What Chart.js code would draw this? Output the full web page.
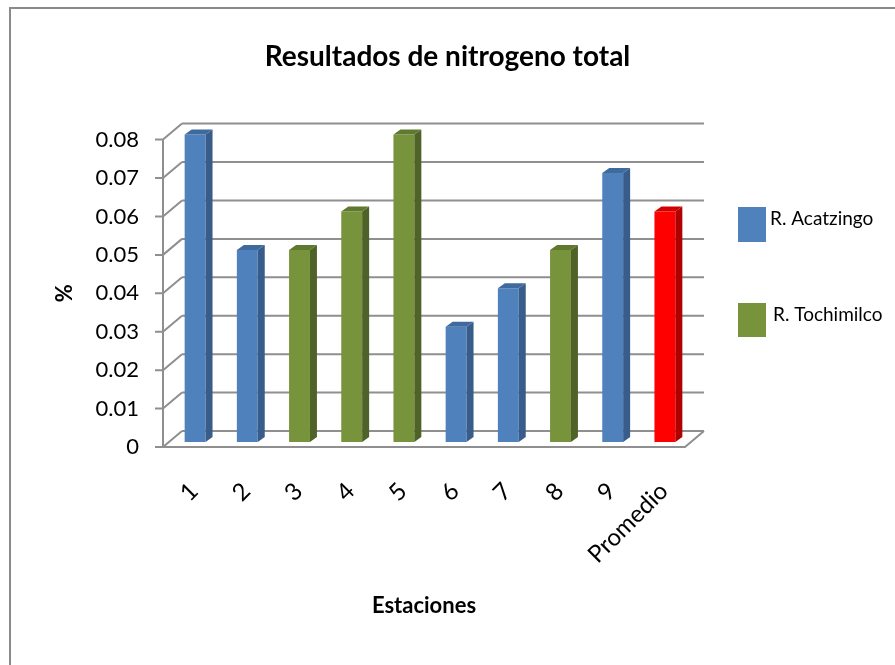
<!DOCTYPE html>
<html>
<head>
<meta charset="utf-8">
<script src="https://cdn.jsdelivr.net/npm/chart.js@4.4.1/dist/chart.umd.min.js"></script>
<style>
  html, body { margin: 0; padding: 0; background: #fff; overflow: hidden; }
  #marco {
    position: absolute; left: 9px; top: 7px; width: 1000px; height: 800px;
    border-left: 2px solid #8a8a8a; border-top: 2px solid #8a8a8a;
  }
  #lienzo { position: absolute; left: 0; top: 0; width: 895px; height: 665px; }
</style>
</head>
<body>
<div id="marco"></div>
<div id="lienzo"><canvas id="grafico" width="895" height="665"></canvas></div>
<script>
// Estaciones de muestreo y nitrogeno total (%)
const estaciones = ["1", "2", "3", "4", "5", "6", "7", "8", "9", "Promedio"];
const nitrogeno = [0.08, 0.05, 0.05, 0.06, 0.08, 0.03, 0.04, 0.05, 0.07, 0.06];
const rio = ["Acatzingo", "Acatzingo", "Tochimilco", "Tochimilco", "Tochimilco",
             "Acatzingo", "Acatzingo", "Tochimilco", "Acatzingo", "Promedio"];
const series = ["R. Acatzingo", "R. Tochimilco"];

// colores: frente, lateral, tapa
const colores = {
    Acatzingo:  ["#4f81bd", "#385d8a", "#3f6a9e"],
    Tochimilco: ["#77933c", "#4f6228", "#5f7a2e"],
    Promedio:   ["#ff0000", "#b00000", "#d40000"]
};

const FONDO_DX = 19, FONDO_DY = 16;   // profundidad de la pared del fondo
const BARRA_DX = 6, BARRA_DY = 5;     // desplazamiento de las barras
const CARA_DX = 7, CARA_DY = 5;       // grosor de la barra

const marco3d = {
    id: "marco3d",
    beforeDatasetsDraw(chart) {
        const ctx = chart.ctx;
        const { left, right, top, bottom } = chart.chartArea;
        const y = chart.scales.y;
        ctx.save();
        ctx.strokeStyle = "#8f8f8f";
        ctx.lineWidth = 2;
        y.ticks.forEach(t => {
            const py = y.getPixelForValue(t.value);
            ctx.beginPath();
            ctx.moveTo(left + FONDO_DX, py - FONDO_DY);
            ctx.lineTo(right + FONDO_DX, py - FONDO_DY);
            ctx.moveTo(left, py);
            ctx.lineTo(left + FONDO_DX, py - FONDO_DY);
            ctx.moveTo(left - 8, py);
            ctx.lineTo(left, py);
            ctx.stroke();
        });
        ctx.beginPath();
        ctx.moveTo(left, top);
        ctx.lineTo(left, bottom);
        ctx.moveTo(left, bottom);
        ctx.lineTo(right, bottom);
        ctx.lineTo(right + FONDO_DX, bottom - FONDO_DY);
        ctx.stroke();
        ctx.restore();

        ctx.save();
        ctx.translate(BARRA_DX, -BARRA_DY);
    },
    afterDatasetsDraw(chart) {
        const ctx = chart.ctx;
        const meta = chart.getDatasetMeta(0);
        meta.data.forEach((bar, i) => {
            const { x, y, base, width } = bar.getProps(["x", "y", "base", "width"], true);
            const l = x - width / 2, r = x + width / 2;
            const c = colores[rio[i]];
            ctx.fillStyle = c[1];
            ctx.beginPath();
            ctx.moveTo(r, y);
            ctx.lineTo(r + CARA_DX, y - CARA_DY);
            ctx.lineTo(r + CARA_DX, base - CARA_DY);
            ctx.lineTo(r, base);
            ctx.closePath();
            ctx.fill();
            ctx.fillStyle = c[2];
            ctx.beginPath();
            ctx.moveTo(l, y);
            ctx.lineTo(l + CARA_DX, y - CARA_DY);
            ctx.lineTo(r + CARA_DX, y - CARA_DY);
            ctx.lineTo(r, y);
            ctx.closePath();
            ctx.fill();
        });
        ctx.restore();
    },
    afterDraw(chart) {
        // leyenda a la derecha
        const ctx = chart.ctx;
        const x0 = chart.chartArea.right + 53;
        const filas = [
            { y: 207, h: 35, color: colores.Acatzingo[0], texto: series[0], tx: 4, ty: 12 },
            { y: 303, h: 34, color: colores.Tochimilco[0], texto: series[1], tx: 7, ty: 12 }
        ];
        ctx.save();
        ctx.font = "19px Lato";
        ctx.textBaseline = "middle";
        filas.forEach(f => {
            ctx.fillStyle = f.color;
            ctx.fillRect(x0, f.y, 28, f.h);
            ctx.fillStyle = "#000";
            ctx.fillText(f.texto, x0 + 28 + f.tx, f.y + f.ty);
        });
        ctx.restore();
    }
};

new Chart(document.getElementById("grafico"), {
    type: "bar",
    data: {
        labels: estaciones,
        datasets: [{
            label: "Nitrogeno total",
            data: nitrogeno,
            backgroundColor: rio.map(r => colores[r][0]),
            borderWidth: 0,
            barPercentage: 0.4,
            categoryPercentage: 1,
            clip: false
        }]
    },
    options: {
        responsive: false,
        animation: false,
        layout: { padding: { top: 10, left: 20, right: 20, bottom: 20 } },
        plugins: {
            legend: { display: false },
            tooltip: { enabled: false },
            title: {
                display: true,
                text: "Resultados de nitrogeno total",
                color: "#000",
                font: { family: "Lato", size: 28, weight: "bold" },
                padding: { top: 30, bottom: 66 }
            }
        },
        scales: {
            y: {
                min: 0,
                max: 0.08,
                border: { display: false },
                grid: { display: false },
                ticks: {
                    stepSize: 0.01,
                    padding: 16,
                    color: "#000",
                    font: { family: "Lato", size: 22 },
                    callback: v => v === 0 ? "0" : v.toFixed(2)
                },
                title: {
                    display: true,
                    text: "%",
                    color: "#000",
                    font: { family: "Lato", size: 22, weight: "bold" },
                    padding: { top: 32 }
                },
                afterFit(scale) { scale.width = 143; }
            },
            // espacio reservado para la leyenda
            derecha: {
                position: "right",
                border: { display: false },
                grid: { display: false },
                ticks: { display: false },
                afterFit(scale) { scale.width = 190; }
            },
            x: {
                border: { display: false },
                grid: { display: false },
                ticks: {
                    autoSkip: false,
                    minRotation: 45,
                    maxRotation: 45,
                    padding: 22,
                    labelOffset: 5,
                    color: "#000",
                    font: { family: "Lato", size: 24 }
                },
                title: {
                    display: true,
                    text: "Estaciones",
                    color: "#000",
                    font: { family: "Lato", size: 22, weight: "bold" },
                    padding: { bottom: 26 }
                },
                afterFit(scale) { scale.height = 198; }
            }
        }
    },
    plugins: [marco3d]
});
</script>
</body>
</html>
